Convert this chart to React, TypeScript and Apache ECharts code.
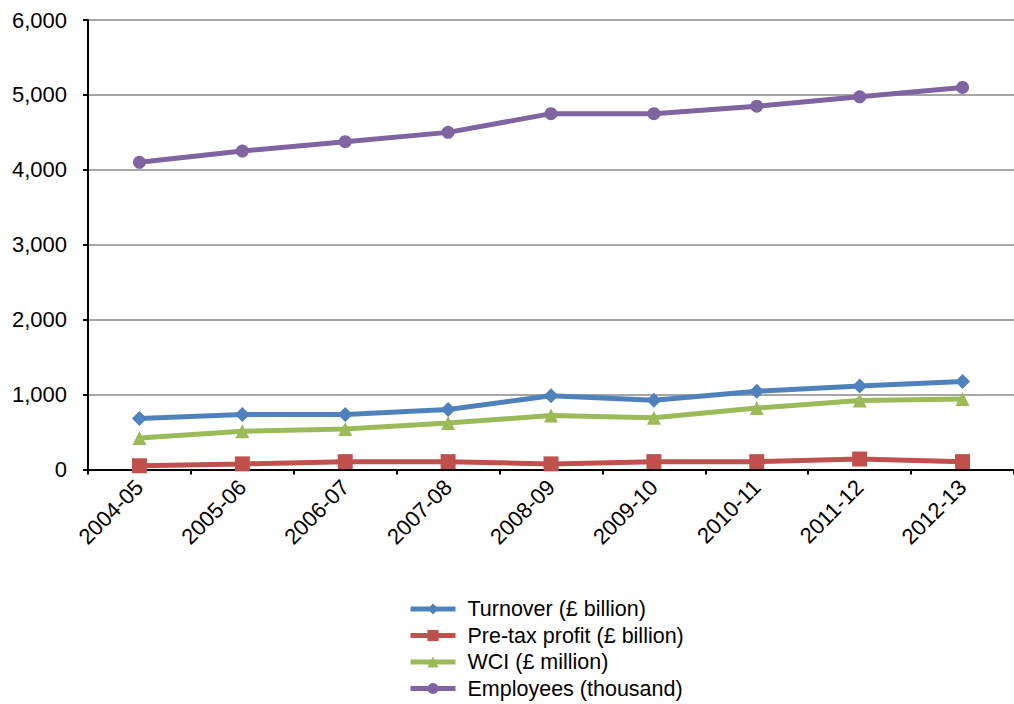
import React, { useEffect, useRef } from "react";
import * as echarts from "echarts";

const categories = ["2004-05", "2005-06", "2006-07", "2007-08", "2008-09", "2009-10", "2010-11", "2011-12", "2012-13"];
const turnover = [680, 735, 735, 800, 985, 925, 1045, 1115, 1175];
const preTaxProfit = [50, 75, 105, 105, 75, 105, 105, 140, 105];
const wci = [420, 510, 540, 620, 720, 690, 820, 920, 940];
const employees = [4100, 4250, 4375, 4500, 4750, 4750, 4850, 4975, 5100];

const FONT = "'Liberation Sans', Arial, sans-serif";

export default function App() {
  const ref = useRef<HTMLDivElement>(null);
  useEffect(() => {
    if (!ref.current) return;
    const chart = echarts.init(ref.current, undefined, { renderer: "svg" });
    const mk = (name: string, data: number[], color: string, symbol: string, size: number) => ({
      name,
      type: "line",
      data,
      symbol,
      symbolSize: size,
      lineStyle: { color, width: 5 },
      itemStyle: { color },
      emphasis: { disabled: true },
    });
    chart.setOption({
      animation: false,
      textStyle: { fontFamily: FONT },
      grid: { left: 88, top: 20, bottom: 234.5, width: 943 },
      xAxis: {
        type: "category",
        data: categories,
        boundaryGap: true,
        axisLine: { lineStyle: { color: "#000", width: 2 } },
        axisTick: { show: true, length: 5, lineStyle: { color: "#000", width: 2 } },
        axisLabel: { rotate: 45, color: "#000", fontSize: 22, fontFamily: FONT, margin: 14 },
      },
      yAxis: {
        type: "value",
        min: 0,
        max: 6000,
        interval: 1000,
        axisLine: { show: true, lineStyle: { color: "#000", width: 2 } },
        axisTick: { show: true, length: 5, lineStyle: { color: "#000", width: 2 } },
        splitLine: { lineStyle: { color: "#a6a6a6", width: 2 } },
        axisLabel: {
          color: "#000",
          fontSize: 22,
          fontFamily: FONT,
          margin: 21,
          formatter: (v: number) => v.toLocaleString("en-GB"),
        },
      },
      legend: {
        orient: "vertical",
        left: 408,
        top: 598,
        height: 110,
        padding: 0,
        itemWidth: 45,
        itemHeight: 14,
        itemGap: 4.5,
        lineStyle: { width: 5 },
        textStyle: { color: "#000", fontSize: 21.5, fontFamily: FONT, lineHeight: 20, padding: [0, 0, 0, 7] },
        data: ["Turnover (£ billion)", "Pre-tax profit (£ billion)", "WCI (£ million)", "Employees (thousand)"],
      },
      series: [
        mk("Turnover (£ billion)", turnover, "#4f81bd", "diamond", 15),
        mk("Pre-tax profit (£ billion)", preTaxProfit, "#c0504d", "rect", 15),
        mk("WCI (£ million)", wci, "#9bbb59", "triangle", 14),
        mk("Employees (thousand)", employees, "#8064a2", "circle", 13),
      ],
    });
    return () => chart.dispose();
  }, []);
  return <div ref={ref} style={{ width: 1014, height: 704, position: "absolute", left: 0, top: 0, background: "#fff" }} />;
}
